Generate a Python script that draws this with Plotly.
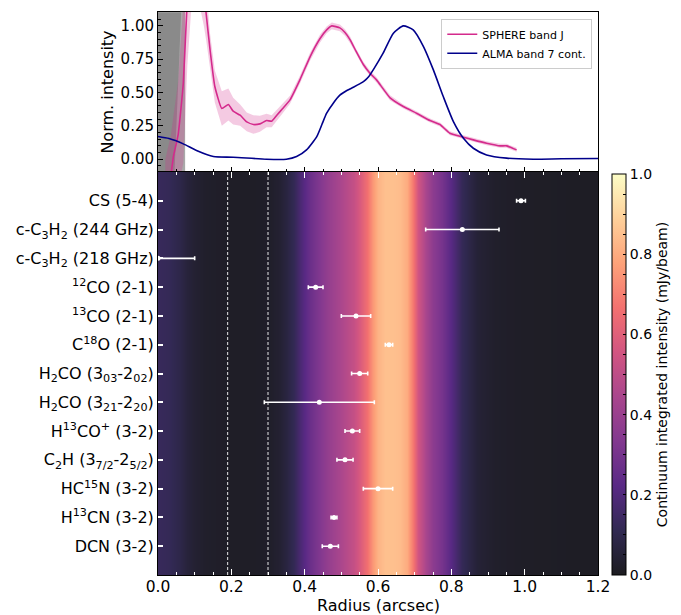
import plotly.graph_objects as go
import plotly.express as px

# ---------------- data ----------------
# Radial profiles (normalised) shown in the upper panel
alma_r = [0.0, 0.03, 0.069, 0.105, 0.151, 0.205, 0.296, 0.35, 0.378, 0.405, 0.433, 0.447,
          0.46, 0.478, 0.496, 0.515, 0.533, 0.55, 0.562, 0.575, 0.587, 0.614, 0.642,
          0.669, 0.696, 0.724, 0.751, 0.778, 0.806, 0.833, 0.86, 0.896, 0.951, 1.024,
          1.1, 1.2]
alma_I = [0.17, 0.155, 0.115, 0.065, 0.02, 0.015, 0.0, 0.0, 0.02, 0.07, 0.17, 0.26,
          0.345, 0.42, 0.48, 0.515, 0.54, 0.565, 0.585, 0.62, 0.67, 0.795, 0.945,
          1.0, 0.97, 0.845, 0.67, 0.47, 0.28, 0.157, 0.082, 0.032, 0.008, 0.0,
          0.003, 0.005]

sphere_r = [0.02, 0.035, 0.042, 0.055, 0.069, 0.08, 0.09, 0.11, 0.125, 0.131, 0.142,
            0.155, 0.174, 0.192, 0.205, 0.224, 0.242, 0.26, 0.278, 0.296, 0.31, 0.324,
            0.34, 0.36, 0.387, 0.415, 0.442, 0.46, 0.474, 0.496, 0.51, 0.524, 0.54,
            0.56, 0.578, 0.596, 0.633, 0.669, 0.705, 0.742, 0.769, 0.796, 0.833, 0.86,
            0.896, 0.933, 0.951, 0.978]
sphere_I = [-0.3, -0.12, 0.02, 0.185, 0.57, 1.2, 1.5, 1.5, 1.25, 1.1, 0.82,
            0.545, 0.38, 0.41, 0.36, 0.33, 0.28, 0.26, 0.265, 0.29, 0.285, 0.33,
            0.38, 0.445, 0.595, 0.77, 0.905, 0.97, 1.0, 0.985, 0.95, 0.895, 0.81,
            0.71, 0.645, 0.595, 0.46, 0.395, 0.345, 0.29, 0.26, 0.195, 0.165, 0.145,
            0.12, 0.10, 0.10, 0.07]
sphere_err = [0.3, 0.3, 0.3, 0.4, 0.6, 0.5, 0.4, 0.3, 0.25, 0.2, 0.12,
              0.12, 0.13, 0.12, 0.1, 0.08, 0.07, 0.07, 0.06, 0.05, 0.045, 0.04,
              0.035, 0.03, 0.03, 0.03, 0.03, 0.025, 0.025, 0.025, 0.025, 0.025, 0.02,
              0.02, 0.02, 0.02, 0.02, 0.015, 0.015, 0.015, 0.015, 0.015, 0.015, 0.015,
              0.015, 0.015, 0.015, 0.015]

# Continuum intensity (mJy/beam) used for the background map
cont_r = [0.0, 0.03, 0.06, 0.08, 0.10, 0.13, 0.20, 0.25, 0.30, 0.33, 0.35, 0.37, 0.387,
          0.415, 0.46, 0.505, 0.535, 0.551, 0.569, 0.587, 0.60, 0.62, 0.64, 0.66, 0.68,
          0.695, 0.71, 0.73, 0.75, 0.774, 0.805, 0.83, 0.87, 0.92, 1.0, 1.2]
cont_I = [0.13, 0.12, 0.09, 0.06, 0.04, 0.025, 0.015, 0.015, 0.02, 0.04, 0.07, 0.12, 0.18,
          0.27, 0.38, 0.46, 0.52, 0.58, 0.66, 0.76, 0.82, 0.85, 0.85, 0.84, 0.8,
          0.68, 0.55, 0.44, 0.36, 0.3, 0.2, 0.12, 0.05, 0.025, 0.015, 0.01]

# Emission radius of each molecular line (arcsec) with its uncertainty
lines = ["CS (5-4)",
         "c-C<sub>3</sub>H<sub>2</sub> (244 GHz)",
         "c-C<sub>3</sub>H<sub>2</sub> (218 GHz)",
         "<sup>12</sup>CO (2-1)",
         "<sup>13</sup>CO (2-1)",
         "C<sup>18</sup>O (2-1)",
         "H<sub>2</sub>CO (3<sub>03</sub>-2<sub>02</sub>)",
         "H<sub>2</sub>CO (3<sub>21</sub>-2<sub>20</sub>)",
         "H<sup>13</sup>CO<sup>+</sup> (3-2)",
         "C<sub>2</sub>H (3<sub>7/2</sub>-2<sub>5/2</sub>)",
         "HC<sup>15</sup>N (3-2)",
         "H<sup>13</sup>CN (3-2)",
         "DCN (3-2)"]
line_r = [0.99, 0.83, 0.0, 0.43, 0.54, 0.63, 0.55, 0.44, 0.53, 0.51, 0.60, 0.48, 0.47]
line_err = [0.012, 0.10, 0.10, 0.02, 0.04, 0.01, 0.022, 0.15, 0.02, 0.022, 0.04, 0.008, 0.022]

ring_edges = [0.19, 0.30]

x_ticks = [0.0, 0.2, 0.4, 0.6, 0.8, 1.0, 1.2]
norm_ticks = [0.0, 0.25, 0.5, 0.75, 1.0]

# ---------------- styling ----------------
FONT = "DejaVu Sans"
PINK = "#d42a8c"
NAVY = "#00008b"


def blend_white(hex_color, alpha=0.89):
    h = hex_color.lstrip("#")
    rgb = [int(h[i:i + 2], 16) for i in (0, 2, 4)]
    out = [round(alpha * c + (1 - alpha) * 255) for c in rgb]
    return "rgb({},{},{})".format(*out)


magma = px.colors.sequential.Magma
n = len(magma)
magma_soft = [[i / (n - 1), blend_white(c)] for i, c in enumerate(magma)]

# y positions: first label on top
n_lines = len(lines)
ypos = [n_lines - 1 - i for i in range(n_lines)]

fig = go.Figure()

# ---- upper panel ----
fig.add_trace(go.Scatter(
    x=sphere_r + sphere_r[::-1],
    y=[v + e for v, e in zip(sphere_I, sphere_err)] +
      [v - e for v, e in zip(sphere_I, sphere_err)][::-1],
    fill="toself", fillcolor="rgba(212,42,140,0.25)", line=dict(width=0),
    hoverinfo="skip", showlegend=False, xaxis="x", yaxis="y"))
fig.add_trace(go.Scatter(x=sphere_r, y=sphere_I, mode="lines", name="SPHERE band J",
                         line=dict(color=PINK, width=1.6, shape="spline", smoothing=0.4),
                         xaxis="x", yaxis="y"))
fig.add_trace(go.Scatter(x=alma_r, y=alma_I, mode="lines", name="ALMA band 7 cont.",
                         line=dict(color=NAVY, width=1.6, shape="spline", smoothing=0.6),
                         xaxis="x", yaxis="y"))

# ---- lower panel: continuum map ----
fig.add_trace(go.Heatmap(
    x=cont_r, y=[-1, 13], z=[cont_I, cont_I], zmin=0, zmax=1, zsmooth="best",
    colorscale=magma_soft, xaxis="x2", yaxis="y2", hoverinfo="skip",
    colorbar=dict(
        x=1.032, xanchor="left", xpad=0, y=0, yanchor="bottom", ypad=0, len=0.712,
        lenmode="fraction", thickness=14, outlinewidth=1, outlinecolor="black",
        tickvals=[round(0.05 * k, 2) for k in range(21)],
        ticktext=["{:.1f}".format(0.05 * k) if k % 4 == 0 else "" for k in range(21)],
        ticks="inside", ticklen=3, tickcolor="black",
        tickfont=dict(family=FONT, size=14, color="black"),
        title=dict(text="Continuum integrated intensity (mJy/beam)", side="right",
                   font=dict(family=FONT, size=14, color="black")))))

fig.add_trace(go.Scatter(
    x=line_r, y=ypos, mode="markers", showlegend=False,
    marker=dict(color="white", size=5),
    error_x=dict(type="data", array=line_err, color="white", thickness=1.6, width=2),
    xaxis="x2", yaxis="y2"))

shapes = [
    dict(type="rect", xref="x", yref="y domain", x0=0, x1=0.074, y0=0, y1=1,
         fillcolor="#a9a9a9", line=dict(width=0), layer="below"),
    dict(type="path", xref="x", yref="y",
         path="M 0 -0.1 L 0.045 -0.1 L 0.063 1.1 L 0 1.1 Z",
         fillcolor="#8a8a8a", line=dict(width=0), layer="below"),
]
for r in ring_edges:
    shapes.append(dict(type="line", xref="x2", yref="y2 domain", x0=r, x1=r, y0=0, y1=1,
                       line=dict(color="white", width=0.9, dash="3px,2px")))

TOP_DOM = [0.7158, 1.0]
BOT_DOM = [0.0, 0.7158]

fig.update_layout(
    width=681, height=615,
    margin=dict(l=158, r=83, t=12, b=40, autoexpand=False),
    paper_bgcolor="white", plot_bgcolor="white",
    font=dict(family=FONT, size=16, color="black"),
    shapes=shapes,
    showlegend=True,
    legend=dict(x=0.987, y=0.988, xanchor="right", yanchor="top",
                bgcolor="rgba(255,255,255,0.85)", bordercolor="#cccccc", borderwidth=1,
                font=dict(family=FONT, size=11, color="black"),
                tracegroupgap=0, itemwidth=30),
    annotations=[dict(text="Radius (arcsec)", xref="paper", yref="paper",
                      x=0.5, y=-0.0535, xanchor="center", yanchor="middle",
                      showarrow=False, font=dict(family=FONT, size=16, color="black"))],
    xaxis=dict(domain=[0, 1], range=[0, 1.2], anchor="y", showticklabels=False,
               tickvals=x_ticks, ticks="inside", ticklen=5, tickcolor="black",
               minor=dict(dtick=0.05, ticks="inside", ticklen=3, tickcolor="black"),
               showline=True, linecolor="black", linewidth=1, mirror=True,
               showgrid=False, zeroline=False, automargin=False),
    yaxis=dict(domain=TOP_DOM, range=[-0.096, 1.104], anchor="x",
               tickvals=norm_ticks, ticktext=["{:.2f}".format(v) for v in norm_ticks],
               ticks="inside", ticklen=5, tickcolor="black",
               minor=dict(dtick=0.05, ticks="inside", ticklen=3, tickcolor="black"),
               tickfont=dict(size=15),
               title=dict(text="Norm. intensity", standoff=2, font=dict(size=16)),
               showline=True, linecolor="black", linewidth=1, mirror=True,
               showgrid=False, zeroline=False, automargin=False),
    xaxis2=dict(domain=[0, 1], range=[0, 1.2], anchor="y2",
                tickvals=x_ticks, ticktext=["{:.1f}".format(v) for v in x_ticks],
                ticks="inside", ticklen=6, tickcolor="white", tickwidth=1.2,
                minor=dict(dtick=0.05, ticks="inside", ticklen=3, tickcolor="white"),
                tickfont=dict(size=15.5), ticklabelstandoff=-3,
                showline=True, linecolor="black", linewidth=1, mirror="ticks",
                showgrid=False, zeroline=False, automargin=False),
    yaxis2=dict(domain=BOT_DOM, range=[-1, 13], anchor="x2",
                tickvals=ypos, ticktext=lines,
                ticks="inside", ticklen=5, tickcolor="white", tickwidth=1.5,
                tickfont=dict(size=16),
                showline=True, linecolor="black", linewidth=1, mirror=True,
                showgrid=False, zeroline=False, automargin=False),
)

fig.write_html("out.html")
